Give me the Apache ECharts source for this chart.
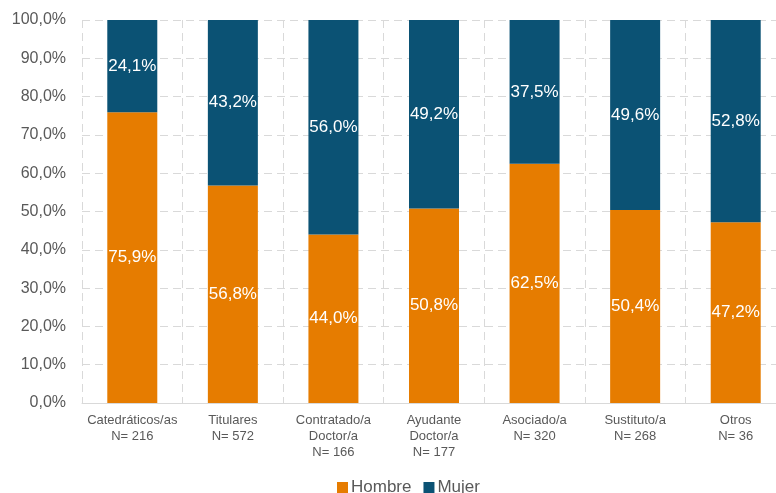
<!DOCTYPE html>
<html>
<head>
<meta charset="utf-8">
<script src="https://cdn.jsdelivr.net/npm/echarts@6/dist/echarts.min.js"></script>
<style>html,body{margin:0;padding:0;background:#fff;overflow:hidden;width:776px;height:493px}#c{width:790px;height:493px}</style>
</head>
<body>
<div id="c"></div>
<script>
const categories = ["Catedráticos/as\nN= 216", "Titulares\nN= 572", "Contratado/a\nDoctor/a\nN= 166", "Ayudante\nDoctor/a\nN= 177", "Asociado/a\nN= 320", "Sustituto/a\nN= 268", "Otros\nN= 36"];
const hombre = [75.9, 56.8, 44.0, 50.8, 62.5, 50.4, 47.2];
const mujer = [24.1, 43.2, 56.0, 49.2, 37.5, 49.6, 52.8];
const seriesNames = ["Hombre", "Mujer"];

const fmt = v => v.toFixed(1).replace('.', ',') + '%';
const chart = echarts.init(document.getElementById('c'));
const lbl = {show: true, position: 'inside', color: '#fff', fontSize: 17, fontFamily: 'Liberation Sans, Arial', formatter: p => fmt(p.value)};
chart.setOption({
  animation: false,
  textStyle: {fontFamily: 'Liberation Sans, Arial'},
  grid: {left: 82, width: 704, top: 20, height: 383},
  legend: {
    data: seriesNames, left: 332, top: 474, itemWidth: 11, itemHeight: 11, itemGap: 12, icon: 'rect',
    textStyle: {fontSize: 17, color: '#595959', padding: [0, 0, 0, -2]}
  },
  xAxis: {
    type: 'category', data: categories,
    axisLine: {lineStyle: {color: '#d9d9d9', width: 1}},
    axisTick: {show: false},
    axisLabel: {color: '#595959', fontSize: 13, lineHeight: 16, margin: 9, interval: 0},
    splitLine: {show: true, interval: 0, lineStyle: {color: '#d9d9d9', type: [8, 5]}}
  },
  yAxis: {
    type: 'value', min: 0, max: 100, interval: 10,
    axisLine: {show: false}, axisTick: {show: false},
    axisLabel: {color: '#595959', fontSize: 16, margin: 16, formatter: v => v.toFixed(1).replace('.', ',') + '%'},
    splitLine: {lineStyle: {color: '#d9d9d9', type: [8, 5]}}
  },
  series: [
    {name: seriesNames[0], type: 'bar', stack: 's', data: hombre, barWidth: 50, itemStyle: {color: '#E67C00'}, label: lbl},
    {name: seriesNames[1], type: 'bar', stack: 's', data: mujer, barWidth: 50, itemStyle: {color: '#0B5274'}, label: lbl}
  ]
});
</script>
</body>
</html>
